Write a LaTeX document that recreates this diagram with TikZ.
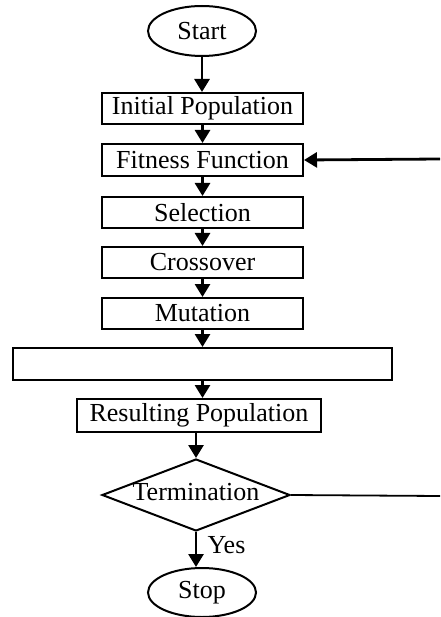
\documentclass[tikz,border=0pt]{standalone}
\usepackage{fontspec}
\setmainfont{Liberation Serif}
\usetikzlibrary{shapes.geometric,arrows.meta}
\begin{document}
\begin{tikzpicture}[x=1pt,y=-1pt,
  every node/.style={font=\fontsize{26}{30}\selectfont},
  procbox/.style={draw, line width=2pt, rectangle, inner sep=0pt, minimum height=31pt},
  term/.style={draw, line width=2pt, ellipse, inner sep=0pt, minimum width=108pt, minimum height=50pt},
  flow/.style={line width=2.8pt, -{Triangle[length=13pt,width=15pt]}},
  plainline/.style={line width=1.8pt}]
\useasboundingbox (0,0) rectangle (440,617);
\node[term] (start) at (202,31) {Start};
\node[procbox, minimum width=201pt] (init) at (202.5,108.5) {Initial Population};
\node[procbox, minimum width=201pt, minimum height=32pt] (fit) at (202.5,160) {Fitness Function};
\node[procbox, minimum width=201pt] (sel) at (202.5,212.5) {Selection};
\node[procbox, minimum width=201pt] (cross) at (202.5,262.5) {Crossover};
\node[procbox, minimum width=201pt] (mut) at (202.5,313.5) {Mutation};
\node[procbox, minimum width=379pt, minimum height=32pt] (wide) at (202.5,364) {};
\node[procbox, minimum width=244pt, minimum height=33pt] (res) at (199,415.5) {Resulting Population};
\node[draw, line width=2pt, diamond, aspect=2.61, inner sep=0pt, minimum width=188pt, minimum height=72pt] (dec) at (196,495) {};
\node (dectext) at (196,492) {Termination};
\node[term, minimum height=49pt] (stop) at (202,592.5) {Stop};
\node[anchor=west] (yes) at (204,545) {Yes};
\coordinate (fbin) at (440,159);
\coordinate (tout) at (440,496);
\draw[flow] (start) -- (start |- init.north);
\draw[flow] (init) -- (init |- fit.north);
\draw[flow] (fit) -- (fit |- sel.north);
\draw[flow] (sel) -- (sel |- cross.north);
\draw[flow] (cross) -- (cross |- mut.north);
\draw[flow] (mut) -- (mut |- wide.north);
\draw[flow] (wide.south) -- (wide.south |- res.north);
\draw[flow] (dec.north |- res.south) -- (dec.north);
\draw[flow] (dec.south) -- (dec.south |- stop.north);
\draw[flow] (fbin) -- (fit.east);
\draw[plainline] (dec.east) -- (tout);
\end{tikzpicture}
\end{document}
